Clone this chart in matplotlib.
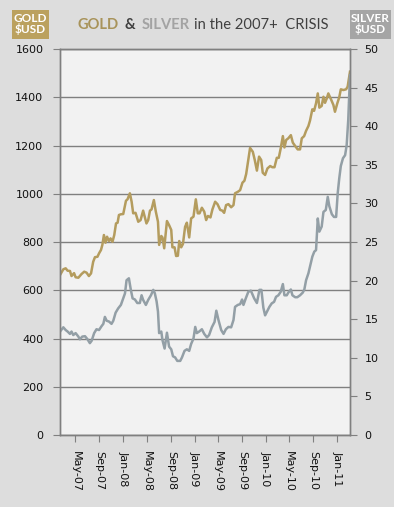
import matplotlib
matplotlib.use('Agg')
import matplotlib.pyplot as plt
from matplotlib.patches import Rectangle
import pandas as pd

# gold price, USD/oz
gold_dates = ['2007-02-11', '2007-02-28', '2007-03-12', '2007-03-22', '2007-04-03', '2007-04-11',
              '2007-04-24', '2007-05-02', '2007-05-16', '2007-06-01', '2007-06-15', '2007-06-27',
              '2007-07-09', '2007-07-20', '2007-07-31', '2007-08-09', '2007-08-22', '2007-08-30',
              '2007-09-09', '2007-09-16', '2007-09-24', '2007-10-02', '2007-10-10', '2007-10-20',
              '2007-10-28', '2007-11-07', '2007-11-16', '2007-11-25', '2007-12-03', '2007-12-10',
              '2007-12-20', '2008-01-01', '2008-01-15', '2008-01-23', '2008-02-04', '2008-02-13',
              '2008-02-21', '2008-03-04', '2008-03-18', '2008-03-30', '2008-04-12', '2008-04-21',
              '2008-04-29', '2008-05-08', '2008-05-17', '2008-05-25', '2008-06-06', '2008-06-16',
              '2008-06-27', '2008-07-03', '2008-07-14', '2008-07-20', '2008-07-29', '2008-08-12',
              '2008-08-23', '2008-09-03', '2008-09-09', '2008-09-20', '2008-09-28', '2008-10-07',
              '2008-10-14', '2008-10-24', '2008-11-02', '2008-11-13', '2008-11-22', '2008-12-04',
              '2008-12-14', '2008-12-26', '2009-01-07', '2009-01-17', '2009-01-26', '2009-02-07',
              '2009-02-19', '2009-03-01', '2009-03-10', '2009-03-23', '2009-04-02', '2009-04-16',
              '2009-04-28', '2009-05-12', '2009-05-23', '2009-06-01', '2009-06-11', '2009-06-23',
              '2009-07-07', '2009-07-19', '2009-07-27', '2009-08-10', '2009-08-22', '2009-09-03',
              '2009-09-13', '2009-09-22', '2009-09-30', '2009-10-12', '2009-10-26', '2009-11-05',
              '2009-11-16', '2009-11-27', '2009-12-08', '2009-12-16', '2009-12-28', '2010-01-09',
              '2010-01-23', '2010-02-03', '2010-02-14', '2010-02-26', '2010-03-08', '2010-03-18',
              '2010-03-29', '2010-04-06', '2010-04-15', '2010-04-26', '2010-05-09', '2010-05-19',
              '2010-05-31', '2010-06-13', '2010-06-25', '2010-07-04', '2010-07-16', '2010-07-26',
              '2010-08-07', '2010-08-15', '2010-08-27', '2010-09-05', '2010-09-15', '2010-09-24',
              '2010-10-02', '2010-10-14', '2010-10-23', '2010-10-31', '2010-11-09', '2010-11-17',
              '2010-12-01', '2010-12-13', '2010-12-21', '2011-01-02', '2011-01-12', '2011-01-20',
              '2011-02-02', '2011-02-16', '2011-02-24', '2011-03-08']
gold_usd = [663, 687, 691, 681, 680, 659,
            671, 654, 652, 667, 677, 673,
            659, 670, 718, 737, 739, 753,
            767, 788, 829, 797, 822, 804,
            815, 801, 829, 877, 880, 912,
            915, 916, 971, 977, 1002, 967,
            919, 921, 884, 891, 930, 901,
            877, 891, 930, 935, 974, 926,
            884, 788, 825, 819, 774, 887,
            870, 850, 778, 778, 742, 743,
            804, 778, 792, 863, 880, 819,
            898, 905, 977, 919, 919, 942,
            926, 891, 908, 902, 935, 967,
            957, 933, 930, 921, 953, 957,
            944, 953, 1002, 1008, 1015, 1046,
            1054, 1082, 1126, 1190, 1174, 1140,
            1096, 1154, 1140, 1087, 1078, 1105,
            1115, 1110, 1110, 1149, 1149, 1188,
            1239, 1192, 1223, 1230, 1243, 1212,
            1198, 1184, 1184, 1230, 1239, 1261,
            1281, 1303, 1350, 1344, 1375, 1416,
            1357, 1364, 1402, 1377, 1395, 1416,
            1391, 1368, 1340, 1375, 1400, 1433,
            1430, 1433, 1444, 1506]

# silver price, USD/oz
silver_dates = ['2007-02-11', '2007-02-28', '2007-03-12', '2007-03-22', '2007-04-03', '2007-04-11',
                '2007-04-20', '2007-05-02', '2007-05-16', '2007-05-24', '2007-06-05', '2007-06-19',
                '2007-07-02', '2007-07-14', '2007-07-23', '2007-08-05', '2007-08-17', '2007-08-30',
                '2007-09-12', '2007-09-21', '2007-09-29', '2007-10-08', '2007-10-20', '2007-11-02',
                '2007-11-11', '2007-11-23', '2007-12-06', '2007-12-20', '2008-01-01', '2008-01-10',
                '2008-01-18', '2008-01-30', '2008-02-09', '2008-02-18', '2008-03-01', '2008-03-13',
                '2008-03-26', '2008-04-04', '2008-04-12', '2008-04-26', '2008-05-08', '2008-05-22',
                '2008-06-03', '2008-06-11', '2008-06-20', '2008-06-27', '2008-07-03', '2008-07-14',
                '2008-07-20', '2008-07-31', '2008-08-12', '2008-08-23', '2008-09-03', '2008-09-12',
                '2008-09-23', '2008-10-04', '2008-10-19', '2008-10-28', '2008-11-10', '2008-11-22',
                '2008-12-04', '2008-12-14', '2008-12-26', '2009-01-04', '2009-01-12', '2009-01-24',
                '2009-02-07', '2009-02-19', '2009-03-05', '2009-03-16', '2009-03-30', '2009-04-13',
                '2009-04-22', '2009-05-03', '2009-05-17', '2009-05-29', '2009-06-10', '2009-06-23',
                '2009-07-07', '2009-07-19', '2009-07-27', '2009-08-10', '2009-08-22', '2009-09-01',
                '2009-09-08', '2009-09-20', '2009-10-03', '2009-10-16', '2009-11-02', '2009-11-16',
                '2009-11-29', '2009-12-09', '2009-12-19', '2009-12-28', '2010-01-09', '2010-01-19',
                '2010-01-31', '2010-02-12', '2010-02-22', '2010-03-06', '2010-03-18', '2010-03-29',
                '2010-04-06', '2010-04-18', '2010-04-26', '2010-05-09', '2010-05-17', '2010-05-31',
                '2010-06-11', '2010-06-25', '2010-07-09', '2010-07-17', '2010-07-26', '2010-08-07',
                '2010-08-15', '2010-08-27', '2010-09-06', '2010-09-15', '2010-09-24', '2010-10-02',
                '2010-10-14', '2010-10-23', '2010-11-04', '2010-11-14', '2010-11-22', '2010-12-05',
                '2010-12-16', '2010-12-27', '2011-01-04', '2011-01-12', '2011-01-20', '2011-01-31',
                '2011-02-11', '2011-02-19', '2011-02-27', '2011-03-08']
silver_usd = [13.4, 13.95, 13.6, 13.4, 13.1, 13.4,
              12.95, 13.2, 12.75, 12.4, 12.75, 12.8,
              12.4, 11.9, 12.2, 13.2, 13.7, 13.6,
              14.1, 14.4, 15.3, 14.8, 14.7, 14.4,
              14.8, 15.85, 16.4, 16.85, 17.7, 18.35,
              20.05, 20.3, 18.8, 17.7, 17.55, 17.1,
              17.1, 18.1, 17.5, 16.85, 17.5, 18.1,
              18.8, 18.35, 17.3, 16.0, 13.2, 13.4,
              12.3, 11.2, 13.25, 11.45, 11.1, 10.2,
              10.05, 9.6, 9.6, 10.05, 10.9, 11.1,
              10.9, 11.8, 12.5, 14.0, 13.2, 13.4,
              13.7, 13.1, 12.65, 12.95, 13.95, 14.65,
              16.1, 14.9, 13.6, 13.1, 13.7, 14.0,
              13.95, 14.9, 16.6, 16.85, 16.95, 17.55,
              16.85, 17.7, 18.55, 18.7, 17.7, 17.1,
              18.8, 18.8, 16.5, 15.5, 16.1, 16.6,
              17.05, 17.25, 17.9, 18.1, 18.55, 19.55,
              18.1, 18.1, 18.45, 18.85, 18.1, 17.85,
              17.85, 18.1, 18.45, 18.85, 20.05, 20.95,
              21.8, 23.1, 23.75, 23.95, 28.05, 26.35,
              27.0, 28.9, 29.15, 30.85, 29.65, 28.6,
              28.25, 28.25, 31.3, 33.25, 34.85, 35.85,
              36.25, 37.55, 40.8, 46.6]

gold_ticks = list(range(0, 1601, 200))
silver_ticks = list(range(0, 51, 5))
month_ticks = pd.date_range('2007-05-01', '2011-01-01', freq='4MS')

GOLD = '#B49C5E'
SILVER = '#939FA6'
GRID = '#808080'

fig = plt.figure(figsize=(3.94, 5.07), dpi=100, facecolor='#DDDDDD')
ax = fig.add_axes([0.1523, 0.142, 0.736, 0.7613])
ax.set_facecolor('#F2F2F2')

ax.plot(pd.to_datetime(gold_dates), gold_usd, color=GOLD, lw=1.8, solid_joinstyle='round')
ax.set_ylim(0, 1600)
ax.set_yticks(gold_ticks)
ax.yaxis.grid(True, color=GRID, lw=1)
ax.set_axisbelow(True)

ax2 = ax.twinx()
ax2.plot(pd.to_datetime(silver_dates), silver_usd, color=SILVER, lw=1.8, solid_joinstyle='round')
ax2.set_ylim(0, 50)
ax2.set_yticks(silver_ticks)

ax.set_xlim(pd.Timestamp('2007-02-11'), pd.Timestamp('2011-03-08'))
ax.set_xticks(month_ticks)
ax.set_xticklabels([d.strftime('%b-%y') for d in month_ticks], rotation=270)

for a in (ax, ax2):
    for s in a.spines.values():
        s.set_color(GRID)
        s.set_linewidth(1)
ax.tick_params(axis='y', length=5, color=GRID, labelsize=8, pad=7, labelcolor='#111111')
ax.tick_params(axis='x', length=5, color=GRID, labelsize=8, pad=6.5, labelcolor='#111111')
ax2.tick_params(axis='y', length=5, color=GRID, labelsize=8, pad=5.5, labelcolor='#111111')

# title, built piece by piece
renderer = fig.canvas.get_renderer()
W = fig.bbox.width
pieces = [('GOLD', '#A8935A', 'bold', 6), ('&', '#404040', 'bold', 6),
          ('SILVER', '#A3A3A3', 'bold', 4), ('in the 2007+  CRISIS', '#404040', 'normal', 0)]
x = 77.7 / W
for txt, col, wt, gap in pieces:
    t = fig.text(x, 0.9507, txt, color=col, fontweight=wt, fontsize=10.6,
                 family='Lato', va='center', ha='left')
    bb = t.get_window_extent(renderer)
    x = (bb.x1 + gap) / W

# unit boxes
fig.patches.append(Rectangle((0.0312, 0.9231), 0.0931, 0.0572, transform=fig.transFigure,
                             facecolor='#BBA15E', edgecolor='none'))
fig.patches.append(Rectangle((0.8883, 0.9231), 0.1033, 0.0572, transform=fig.transFigure,
                             facecolor='#A5A5A5', edgecolor='none'))
fig.text(0.0312 + 0.0931 / 2, 0.9517, 'GOLD\n$USD', color='white', fontweight='bold',
         fontsize=8.5, family='Lato', ha='center', va='center', linespacing=0.9)
fig.text(0.8883 + 0.1033 / 2, 0.9517, 'SILVER\n$USD', color='white', fontweight='bold',
         fontsize=8.5, family='Lato', ha='center', va='center', linespacing=0.9)

fig.savefig('out.png', dpi=100, facecolor=fig.get_facecolor())
